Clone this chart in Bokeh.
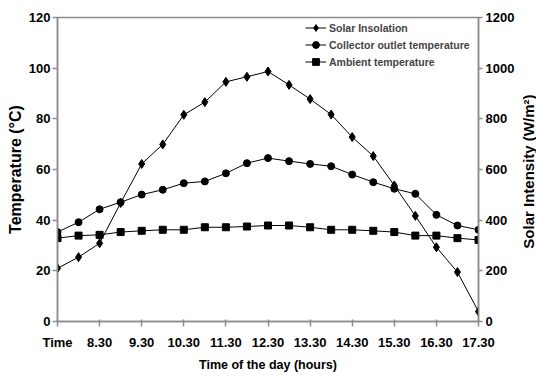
from bokeh.plotting import figure
from bokeh.layouts import row
from bokeh.models import Range1d, LinearAxis, FixedTicker, Legend, LegendItem, Title
from bokeh.embed import file_html
from bokeh.resources import INLINE

# half-hourly readings, 7.30 to 17.30
time_slots = ["7.30", "8.00", "8.30", "9.00", "9.30", "10.00", "10.30", "11.00", "11.30", "12.00",
              "12.30", "13.00", "13.30", "14.00", "14.30", "15.00", "15.30", "16.00", "16.30", "17.00", "17.30"]
solar_insolation = [210, 254, 309, 468, 622, 699, 816, 866, 946, 966, 987,
                    934, 878, 817, 728, 653, 537, 417, 293, 195, 39]
collector_outlet = [35.3, 39.2, 44.3, 47.1, 50.1, 52.0, 54.6, 55.3, 58.5, 62.5, 64.5,
                    63.3, 62.2, 61.3, 58.0, 55.0, 52.4, 50.4, 42.1, 37.9, 36.2]
ambient = [32.9, 33.9, 34.2, 35.3, 35.8, 36.2, 36.2, 37.2, 37.2, 37.5, 37.9,
           37.9, 37.2, 36.2, 36.2, 35.8, 35.3, 33.9, 33.9, 32.9, 32.2]
tick_labels = ["Time", "8.30", "9.30", "10.30", "11.30", "12.30", "13.30", "14.30", "15.30", "16.30", "17.30"]
temp_ticks = [0, 20, 40, 60, 80, 100, 120]
solar_ticks = [0, 200, 400, 600, 800, 1000, 1200]

x = list(range(len(time_slots)))
FONT = "Liberation Sans"
AXIS_GRAY = "#8c8c8c"

p = figure(width=517, height=376, output_backend="svg", toolbar_location=None,
           x_range=Range1d(0, len(time_slots) - 1), y_range=Range1d(0, 120),
           min_border_left=57, min_border_right=36, min_border_top=17, min_border_bottom=55)
p.extra_y_ranges = {"solar": Range1d(0, 1200)}
p.xgrid.visible = False
p.ygrid.visible = False
p.outline_line_color = AXIS_GRAY
p.outline_line_width = 1.5
p.background_fill_color = "white"
p.border_fill_color = "white"

r_solar_l = p.line(x, solar_insolation, y_range_name="solar", line_color="black", line_width=1)
r_solar_m = p.scatter(x, solar_insolation, y_range_name="solar", marker="diamond", size=9,
                      fill_color="black", line_color="black")
r_col_l = p.line(x, collector_outlet, line_color="black", line_width=1)
r_col_m = p.scatter(x, collector_outlet, marker="circle", size=7, fill_color="black", line_color="black")
r_amb_l = p.line(x, ambient, line_color="black", line_width=1)
r_amb_m = p.scatter(x, ambient, marker="square", size=7, fill_color="black", line_color="black")

right_axis = LinearAxis(y_range_name="solar")
p.add_layout(right_axis, "right")

for ax in [p.xaxis[0], p.yaxis[0], right_axis]:
    ax.axis_line_color = AXIS_GRAY
    ax.axis_line_width = 1.5
    ax.major_tick_line_color = AXIS_GRAY
    ax.major_tick_line_width = 1.5
    ax.minor_tick_line_color = None
    ax.major_tick_out = 5
    ax.major_tick_in = 0
    ax.major_label_text_font = FONT
    ax.major_label_text_font_style = "bold"
    ax.major_label_text_font_size = "13px"
    ax.major_label_text_color = "black"
    ax.axis_label_text_font = FONT
    ax.axis_label_text_font_style = "bold"
    ax.axis_label_text_color = "black"

p.yaxis[0].ticker = FixedTicker(ticks=temp_ticks)
p.yaxis[0].axis_label = "Temperature (\u00b0C)"
p.yaxis[0].axis_label_text_font_size = "16px"
p.yaxis[0].major_label_standoff = 2
p.yaxis[0].axis_label_standoff = 2

right_axis.ticker = FixedTicker(ticks=solar_ticks)
right_axis.major_tick_out = 4
right_axis.major_label_standoff = 3

xa = p.xaxis[0]
xa.ticker = FixedTicker(ticks=x[::2])
xa.major_label_overrides = {i: lab for i, lab in zip(x[::2], tick_labels)}
xa.major_tick_in = 2
xa.major_label_standoff = 8
xa.axis_label = "Time of the day (hours)"
xa.axis_label_text_font_size = "12.5px"
xa.axis_label_standoff = 5

legend = Legend(items=[
    LegendItem(label="Solar Insolation", renderers=[r_solar_l, r_solar_m]),
    LegendItem(label="Collector outlet temperature", renderers=[r_col_l, r_col_m]),
    LegendItem(label="Ambient temperature", renderers=[r_amb_l, r_amb_m]),
], location=(248, 251))
legend.background_fill_alpha = 0
legend.border_line_color = None
legend.label_text_font = FONT
legend.label_text_font_style = "bold"
legend.label_text_font_size = "10.5px"
legend.label_height = 17
legend.glyph_height = 17
legend.glyph_width = 21
legend.label_standoff = 3
legend.spacing = 0
legend.padding = 3
legend.margin = 0
p.add_layout(legend, "center")

# narrow side panel carrying the right-hand axis title, reading bottom to top
p2 = figure(width=19, height=376, output_backend="svg", toolbar_location=None,
            min_border_left=0, min_border_right=0, min_border_top=17, min_border_bottom=55)
p2.axis.visible = False
p2.grid.visible = False
p2.outline_line_color = None
p2.border_fill_color = "white"
p2.background_fill_color = "white"
p2.add_layout(Title(text="Solar Intensity  (W/m\u00b2)", align="center", text_font=FONT,
                    text_font_style="bold", text_font_size="15px", text_color="black",
                    standoff=0, offset=0), "left")

layout = row(p, p2, spacing=0)
open("out.html", "w").write(file_html(layout, INLINE))
